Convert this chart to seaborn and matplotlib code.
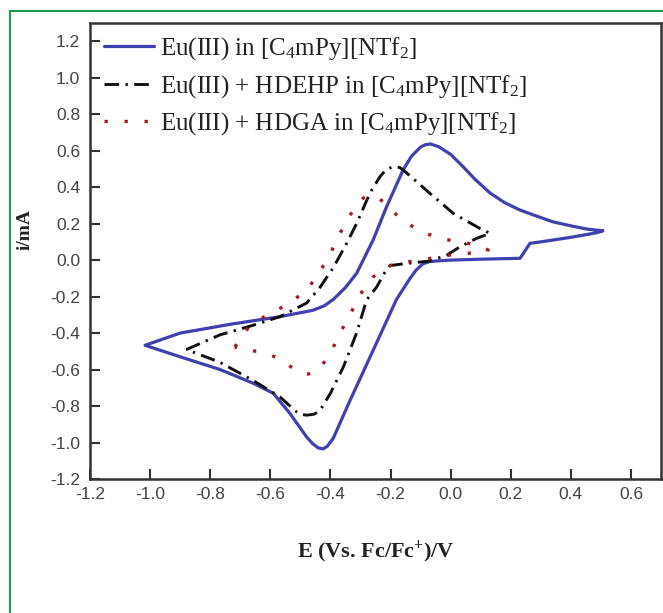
import numpy as np
import pandas as pd
import matplotlib
matplotlib.use("Agg")
import matplotlib.pyplot as plt
import seaborn as sns
from matplotlib.patches import Rectangle

# ---- data ----
blue_E = [0.506, 0.486, 0.40, 0.30, 0.264, 0.231, 0.10, 0.0, -0.05, -0.07, -0.092, -0.115, -0.135,
          -0.18, -0.258, -0.335, -0.39, -0.41, -0.424, -0.44, -0.46, -0.479, -0.535, -0.59, -0.657,
          -0.767, -0.90, -1.017,
          -0.90, -0.734, -0.568, -0.458, -0.42, -0.39, -0.35, -0.313, -0.258, -0.213, -0.158,
          -0.13, -0.10, -0.085, -0.067, -0.04, 0.0, 0.041, 0.08, 0.131, 0.18, 0.23, 0.28, 0.34,
          0.40, 0.454, 0.506]
blue_i = [0.161, 0.150, 0.125, 0.100, 0.092, 0.010, 0.005, 0.0, -0.005, -0.008, -0.020, -0.055,
          -0.100, -0.215, -0.495, -0.770, -0.975, -1.020, -1.035, -1.030, -1.005, -0.970, -0.840,
          -0.730, -0.675, -0.600, -0.530, -0.467,
          -0.400, -0.352, -0.310, -0.275, -0.250, -0.215, -0.150, -0.073, 0.110, 0.293, 0.495,
          0.570, 0.620, 0.632, 0.637, 0.622, 0.580, 0.513, 0.445, 0.368, 0.315, 0.275, 0.245,
          0.210, 0.188, 0.170, 0.161]

black_E = [-0.879, -0.768, -0.657, -0.568, -0.479, -0.435, -0.39, -0.346, -0.313, -0.269, -0.235,
           -0.215, -0.191, -0.17, -0.158, -0.069, 0.009, 0.097, 0.131, 0.086, 0.031, -0.013,
           -0.069, -0.146, -0.202, -0.22, -0.246, -0.28, -0.313, -0.357, -0.40, -0.435, -0.455,
           -0.479, -0.50, -0.512, -0.568, -0.657, -0.768, -0.879]
black_i = [-0.490, -0.410, -0.357, -0.310, -0.235, -0.150, -0.040, 0.092, 0.200, 0.366, 0.458,
           0.495, 0.513, 0.508, 0.495, 0.366, 0.256, 0.174, 0.147, 0.119, 0.073, 0.027,
           -0.005, -0.018, -0.030, -0.070, -0.147, -0.220, -0.400, -0.586, -0.730, -0.825, -0.845,
           -0.850, -0.845, -0.833, -0.750, -0.660, -0.560, -0.490]

red_E = [-0.718, -0.673, -0.607, -0.546, -0.479, -0.435, -0.40, -0.368, -0.335, -0.291, -0.27,
         -0.25, -0.224, -0.163, -0.097, -0.036, 0.03, 0.092, 0.125, 0.059, -0.008, -0.10, -0.191,
         -0.258, -0.302, -0.335, -0.368, -0.40, -0.44, -0.475, -0.507, -0.568, -0.635, -0.695,
         -0.718]
red_i = [-0.476, -0.370, -0.295, -0.247, -0.165, -0.064, 0.037, 0.147, 0.247, 0.340, 0.355,
         0.350, 0.320, 0.220, 0.156, 0.119, 0.100, 0.082, 0.055, 0.037, 0.027, 0.000, -0.020,
         -0.092, -0.190, -0.300, -0.400, -0.510, -0.605, -0.625, -0.615, -0.540, -0.500, -0.495,
         -0.476]

labels = [r"Eu(III) in [C$_4$mPy][NTf$_2$]",
          r"Eu(III) + HDEHP in [C$_4$mPy][NTf$_2$]",
          r"Eu(III) + HDGA in [C$_4$mPy][NTf$_2$]"]
xticks = [-1.2, -1.0, -0.8, -0.6, -0.4, -0.2, 0.0, 0.2, 0.4, 0.6]
yticks = [-1.2, -1.0, -0.8, -0.6, -0.4, -0.2, 0.0, 0.2, 0.4, 0.6, 0.8, 1.0, 1.2]

# ---- style ----
sns.set_theme(style="ticks")
plt.rcParams["font.family"] = ["Liberation Sans", "DejaVu Sans"]
plt.rcParams["mathtext.fontset"] = "custom"
plt.rcParams["mathtext.rm"] = "Liberation Serif"
plt.rcParams["mathtext.it"] = "Liberation Serif:italic"
plt.rcParams["mathtext.bf"] = "Liberation Serif:bold"

fig = plt.figure(figsize=(6.63, 6.13), dpi=100)
ax = fig.add_axes([90 / 663, 1 - 479 / 613, (661 - 90) / 663, (479 - 23) / 613])

frames = [
    pd.DataFrame({"E": blue_E, "i": blue_i}),
    pd.DataFrame({"E": black_E, "i": black_i}),
    pd.DataFrame({"E": red_E, "i": red_i}),
]
colors = ["#4040b0", "#111111", "#a51c1c"]
styles = ["-", (0, (5.0, 2.2, 0.8, 2.2)), (0, (1.0, 5.0))]
widths = [2.3, 2.1, 2.4]

for df, c, ls, lw, lab in zip(frames, colors, styles, widths, labels):
    sns.lineplot(data=df, x="E", y="i", sort=False, estimator=None, ax=ax,
                 color=c, linestyle=ls, linewidth=lw, label=lab)

ax.set_xlim(-1.2, 0.70)
ax.set_ylim(-1.2, 1.30)
ax.set_xticks(xticks)
ax.set_yticks(yticks)
ax.set_xticklabels([f"{v:.1f}" for v in xticks])
ax.set_yticklabels([f"{v:.1f}" for v in yticks])
ax.tick_params(direction="in", length=7, width=1.5, colors="#333333",
               labelsize=12.5, labelcolor="#444444", pad=6)
ax.tick_params(axis="y", pad=7)
for s in ax.spines.values():
    s.set_visible(True)
    s.set_linewidth(1.8)
    s.set_color("#333333")

ax.set_xlabel(r"E (Vs. Fc/Fc$^{\mathbf{+}}$)/V", family="Liberation Serif",
              fontweight="bold", fontsize=16, color="#222222", labelpad=26)
ax.set_ylabel("i/mA", family="Liberation Serif", fontweight="bold",
              fontsize=14, color="#222222")
ax.yaxis.set_label_coords(-0.098, 0.548)

leg = ax.legend(loc="upper left", frameon=False, handlelength=2.0,
                prop={"family": "Liberation Serif", "size": 18},
                labelspacing=0.42, borderaxespad=0.2, handletextpad=0.25,
                borderpad=0.3, bbox_to_anchor=(0.003, 1.0))
for t in leg.get_texts():
    t.set_color("#222222")

# green frame around the figure
fig.patches.append(Rectangle((10 / 663, -0.1), 1.2, 1 - 11 / 613 + 0.1,
                             transform=fig.transFigure, fill=False,
                             edgecolor="#1a9a4a", linewidth=1.5, zorder=0))

fig.savefig("out.png", dpi=100)
